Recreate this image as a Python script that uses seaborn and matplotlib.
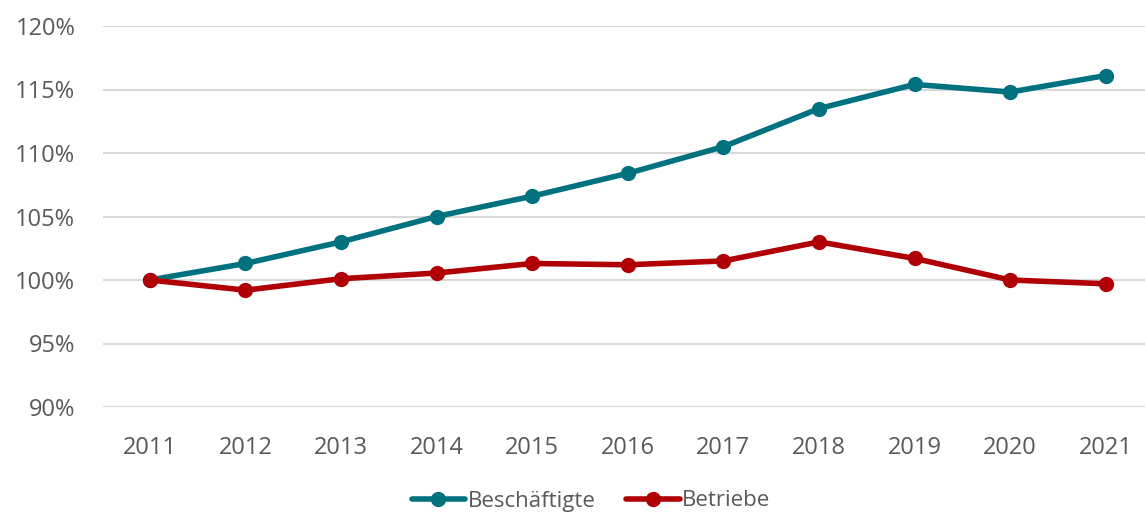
import matplotlib
matplotlib.use("Agg")
import matplotlib.pyplot as plt
import seaborn as sns
import pandas as pd
from matplotlib.ticker import FuncFormatter

years = ["2011", "2012", "2013", "2014", "2015", "2016", "2017", "2018", "2019", "2020", "2021"]
beschaeftigte = [100.0, 101.3, 103.0, 105.0, 106.6, 108.4, 110.5, 113.5, 115.4, 114.8, 116.1]
betriebe = [100.0, 99.2, 100.1, 100.55, 101.3, 101.2, 101.5, 103.0, 101.7, 100.0, 99.7]
series_names = ["Beschäftigte", "Betriebe"]
colors = ["#00727F", "#B00005"]

df = pd.DataFrame({
    "x": list(range(len(years))) * 2,
    "value": beschaeftigte + betriebe,
    "series": [series_names[0]] * len(years) + [series_names[1]] * len(years),
})

sns.set_theme(style="white")
plt.rcParams['font.family'] = ['Open Sans', 'DejaVu Sans']
text_color = "#595959"

fig = plt.figure(figsize=(11.45, 5.13), dpi=100)
ax = fig.add_axes([103 / 1145, 1 - 407 / 513, (1145 - 103) / 1145, (407 - 26) / 513])

sns.lineplot(data=df, x="x", y="value", hue="series", palette=colors,
             marker="o", markersize=11, markeredgewidth=0, linewidth=4,
             ax=ax, legend=True, zorder=3)

ax.set_xlim(-0.49, 10.41)
ax.set_ylim(90, 120)
ax.set_yticks([90, 95, 100, 105, 110, 115, 120])
ax.yaxis.set_major_formatter(FuncFormatter(lambda v, p: f"{v:.0f}%"))
ax.set_xticks(range(len(years)))
ax.set_xticklabels(years)
ax.grid(axis="y", color="#D9D9D9", linewidth=1.5, zorder=0)
ax.grid(axis="x", visible=False)
for s in ax.spines.values():
    s.set_visible(False)
ax.tick_params(axis="both", length=0, labelsize=17, labelcolor=text_color)
ax.tick_params(axis="y", pad=20)
ax.tick_params(axis="x", pad=21)
ax.set_xlabel("")
ax.set_ylabel("")

handles, labels = ax.get_legend_handles_labels()
ax.legend_.remove()
fig.legend(handles, labels, loc="center", bbox_to_anchor=(591 / 1145, 1 - 501 / 513),
           ncol=2, frameon=False, fontsize=16, labelcolor=text_color,
           handlelength=2.4, handletextpad=0.1, columnspacing=1.4)

fig.savefig("out.png", dpi=100)
